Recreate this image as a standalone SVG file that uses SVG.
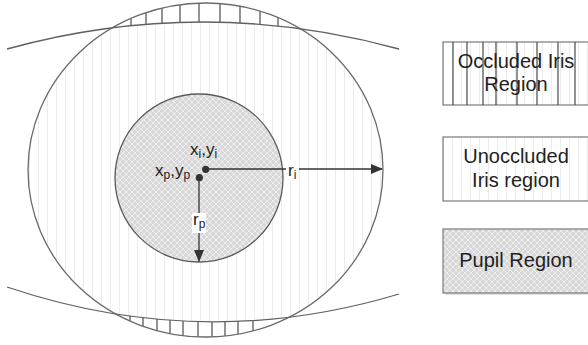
<svg xmlns="http://www.w3.org/2000/svg" width="588" height="345" viewBox="0 0 588 345">
<style>
.outline{fill:none;stroke:#6a6a6a;stroke-width:1.3}
.lid{fill:none;stroke:#606060;stroke-width:1.3}
.occ{stroke:#4a4a4a;stroke-width:1.2}
.lbl{font-family:"Liberation Sans",Arial,sans-serif;font-size:17px;fill:#222}
.sub{font-size:12px;fill:#222}
.leg{font-family:"Liberation Sans",Arial,sans-serif;font-size:20px;fill:#222;text-anchor:middle}
.box{stroke:#7a7a7a;stroke-width:1.2}
.conn{stroke:#333;stroke-width:1.3;fill:none}
</style>
<defs>
<pattern id="vlines" width="9" height="10" patternUnits="userSpaceOnUse" x="2">
<rect width="9" height="10" fill="#fff"/>
<line x1="0.5" y1="0" x2="0.5" y2="10" stroke="#ececec" stroke-width="1"/>
</pattern>
<pattern id="hatch" width="6" height="6" patternUnits="userSpaceOnUse">
<rect width="6" height="6" fill="#d8d8d8"/>
<path d="M0,0L6,6M6,0L0,6" stroke="#ededed" stroke-width="1"/>
</pattern>
<clipPath id="iris"><ellipse cx="205.5" cy="170" rx="177.5" ry="167"/></clipPath>
<clipPath id="above"><path d="M0,49 L7,49 Q203,-5 399,49 L588,49 L588,0 L0,0Z"/></clipPath>
<clipPath id="below"><path d="M0,287 L7,287 Q203,353 399,294 L588,294 L588,345 L0,345Z"/></clipPath>
<marker id="ah" markerWidth="12" markerHeight="10" refX="11" refY="5" orient="auto" markerUnits="userSpaceOnUse">
<path d="M0,0L12,5L0,10Z" fill="#333"/>
</marker>
</defs>
<rect width="588" height="345" fill="#fff"/>

<g id="iris-region">
<ellipse cx="205.5" cy="170" rx="177.5" ry="167" fill="url(#vlines)"/>
</g>

<g id="occluded-top" clip-path="url(#iris)">
<g clip-path="url(#above)">
<rect x="20" y="0" width="380" height="60" fill="#fff"/>
<path class="occ" d="M131,0V50M146,0V50M162,0V50M180,0V50M199,0V50M220,0V50M240,0V50M260,0V50M278,0V50"/>
</g>
</g>
<g id="occluded-bottom" clip-path="url(#iris)">
<g clip-path="url(#below)">
<rect x="20" y="280" width="380" height="65" fill="#fff"/>
<path class="occ" d="M130,280V345M143,280V345M157,280V345M170,280V345M183,280V345M198,280V345M212,280V345M225,280V345M238,280V345M253,280V345"/>
</g>
</g>

<g id="iris-outline">
<ellipse class="outline" cx="205.5" cy="170" rx="177.5" ry="167"/>
</g>

<g id="eyelids">
<path class="lid" d="M7,49 Q203,-5 399,49"/>
<path class="lid" d="M7,287 Q203,353 399,294"/>
</g>

<g id="pupil">
<circle cx="199" cy="178" r="84" fill="url(#hatch)" stroke="#5a5a5a" stroke-width="1.3"/>
</g>

<g id="connectors">
<line class="conn" x1="206" y1="169" x2="382" y2="169" marker-end="url(#ah)"/>
<line class="conn" x1="199" y1="178" x2="199" y2="261" marker-end="url(#ah)"/>
</g>

<g id="centers">
<circle cx="205.7" cy="169.3" r="3.6" fill="#333"/>
<circle cx="199.3" cy="177.7" r="3.6" fill="#333"/>
</g>

<g id="labels">
<text class="lbl" x="190" y="155">x<tspan class="sub" dy="3">i</tspan><tspan dy="-3">,y</tspan><tspan class="sub" dy="3">i</tspan></text>
<text class="lbl" x="155" y="176">x<tspan class="sub" dy="3">p</tspan><tspan dy="-3">,y</tspan><tspan class="sub" dy="3">p</tspan></text>
<rect x="286" y="160" width="13" height="20" fill="#fff"/>
<text class="lbl" x="288" y="176">r<tspan class="sub" dy="3">i</tspan></text>
<rect x="192" y="213" width="14" height="20" fill="#fff"/>
<text class="lbl" x="193" y="225">r<tspan class="sub" dy="3">p</tspan></text>
</g>

<g id="legend-occluded">
<rect class="box" x="443" y="42" width="150" height="63" fill="url(#vlines)"/>
<path class="occ" stroke="#555" d="M453,42V105M467,42V105M483,42V105M496,42V105M517,42V105M537,42V105M558,42V105M575,42V105"/>
<text class="leg" x="516" y="68">Occluded Iris</text>
<text class="leg" x="516" y="91">Region</text>
</g>

<g id="legend-unoccluded">
<rect class="box" x="443" y="137" width="150" height="64" fill="url(#vlines)"/>
<text class="leg" x="516" y="163">Unoccluded</text>
<text class="leg" x="516" y="187">Iris region</text>
</g>

<g id="legend-pupil">
<rect x="445" y="231" width="150" height="64" fill="#e4e4e4"/>
<rect class="box" x="443" y="229" width="150" height="64" fill="url(#hatch)"/>
<text class="leg" x="516" y="267">Pupil Region</text>
</g>
</svg>
